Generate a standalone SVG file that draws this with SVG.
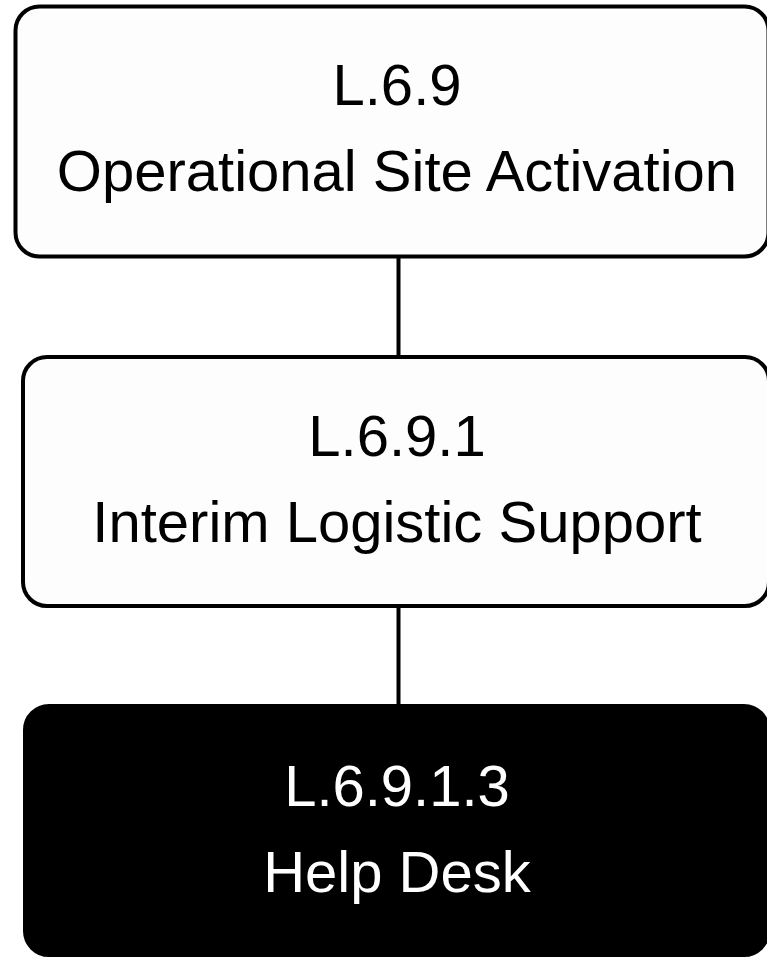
<svg xmlns="http://www.w3.org/2000/svg" width="767" height="957" viewBox="0 0 767 957">
  <style>
    .box { fill: #fdfdfd; stroke: #000; stroke-width: 4; }
    .box-dark { fill: #000; stroke: #000; stroke-width: 4; }
    .label { font-family: "Liberation Sans", Arial, sans-serif; font-size: 58px; text-anchor: middle; fill: #000; }
    .label-light { fill: #fff; }
    .link { stroke: #000; stroke-width: 4; fill: none; }
  </style>
  <rect width="767" height="957" fill="#fff"/>

  <!-- connectors -->
  <g id="connectors">
    <line class="link" x1="398.5" y1="257" x2="398.5" y2="357"/>
    <line class="link" x1="398.5" y1="606" x2="398.5" y2="705"/>
  </g>

  <!-- L.6.9 -->
  <g id="node-l69">
    <rect class="box" x="15.5" y="6.5" width="753" height="250" rx="24" ry="24"/>
    <text class="label" x="397" y="105">L.6.9</text>
    <text class="label" x="397" y="191">Operational Site Activation</text>
  </g>

  <!-- L.6.9.1 -->
  <g id="node-l691">
    <rect class="box" x="23" y="357" width="746" height="249" rx="24" ry="24"/>
    <text class="label" x="397" y="456">L.6.9.1</text>
    <text class="label" x="397" y="542">Interim Logistic Support</text>
  </g>

  <!-- L.6.9.1.3 -->
  <g id="node-l6913">
    <rect class="box-dark" x="25" y="706" width="743" height="249" rx="24" ry="24"/>
    <text class="label label-light" x="397" y="806">L.6.9.1.3</text>
    <text class="label label-light" x="397" y="892">Help Desk</text>
  </g>
</svg>
